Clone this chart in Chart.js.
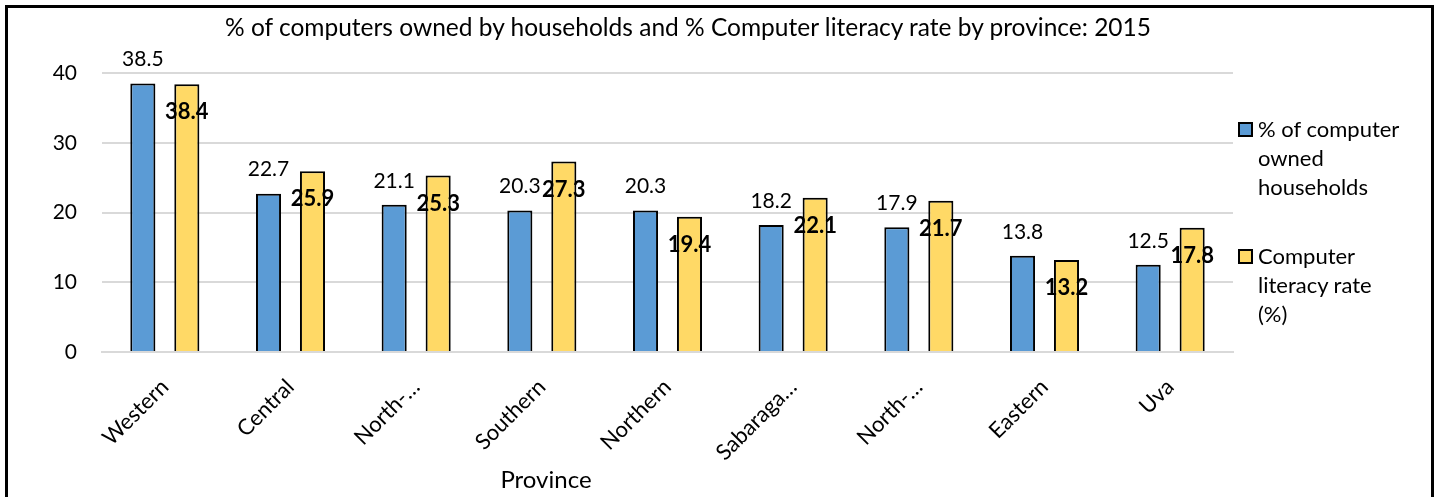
<!DOCTYPE html>
<html>
<head>
<meta charset="utf-8">
<script src="https://cdn.jsdelivr.net/npm/chart.js@4"></script>
<style>
  body { margin: 0; background: #fff; }
  #wrap { position: relative; width: 1439px; height: 497px; overflow: hidden; font-family: Lato, "Open Sans", sans-serif; color: #000; }
  #frame { position: absolute; left: 5px; top: 5px; width: 1423px; height: 520px; border: 3px solid #000; }
  #myChart { position: absolute; left: 0; top: 0; }
  #title { position: absolute; left: 0; width: 1376px; top: 12px; text-align: center; font-size: 24.5px; }
  #xTitle { position: absolute; left: 446px; width: 200px; top: 464px; text-align: center; font-size: 24px; }
  .leg { position: absolute; left: 1238px; font-size: 22px; line-height: 29px; }
  .leg span.box { position: absolute; left: 0; top: 8px; width: 11px; height: 11px; border: 2px solid #000; }
  .leg div.txt { margin-left: 20px; }
</style>
</head>
<body>
<div id="wrap">
  <div id="frame"></div>
  <canvas id="myChart" width="1439" height="497"></canvas>
  <div id="title">% of computers owned by households and % Computer literacy rate by province: 2015</div>
  <div id="xTitle">Province</div>
  <div class="leg" style="top:114px"><span class="box" style="background:#5B9BD5"></span><div class="txt">% of computer<br>owned<br>households</div></div>
  <div class="leg" style="top:241px"><span class="box" style="background:#FFD966"></span><div class="txt">Computer<br>literacy rate<br>(%)</div></div>
</div>
<script>
const provinces = ['Western', 'Central', 'North-\u2026', 'Southern', 'Northern', 'Sabaraga\u2026', 'North-\u2026', 'Eastern', 'Uva'];
const ownedHouseholds = [38.5, 22.7, 21.1, 20.3, 20.3, 18.2, 17.9, 13.8, 12.5];
const literacyRate = [38.4, 25.9, 25.3, 27.3, 19.4, 22.1, 21.7, 13.2, 17.8];
const yTicks = [0, 10, 20, 30, 40];

// value labels: blue above the bar, yellow bold inside near the top
const valueLabels = {
    id: 'valueLabels',
    afterDatasetsDraw(chart) {
        const ctx = chart.ctx;
        ctx.save();
        ctx.textAlign = 'center';
        ctx.textBaseline = 'middle';
        ctx.fillStyle = '#000';
        chart.data.datasets.forEach((ds, di) => {
            const meta = chart.getDatasetMeta(di);
            meta.data.forEach((bar, i) => {
                if (di === 0) {
                    ctx.font = '21px Lato';
                    ctx.fillText(ds.data[i].toFixed(1), bar.x, bar.y - 24);
                } else {
                    ctx.font = 'bold 22px Lato';
                    ctx.fillText(ds.data[i].toFixed(1), bar.x, bar.y + 28);
                }
            });
        });
        ctx.restore();
    }
};

const ctx = document.getElementById('myChart').getContext('2d');
const chart = new Chart(ctx, {
    type: 'bar',
    data: {
        labels: provinces,
        datasets: [
            {
                label: '% of computer owned households',
                data: ownedHouseholds,
                backgroundColor: '#5B9BD5',
                borderColor: '#000',
                borderWidth: 2,
                borderSkipped: 'bottom'
            },
            {
                label: 'Computer literacy rate (%)',
                data: literacyRate,
                backgroundColor: '#FFD966',
                borderColor: '#000',
                borderWidth: 2,
                borderSkipped: 'bottom'
            }
        ]
    },
    options: {
        responsive: false,
        animation: false,
        categoryPercentage: 0.7,
        barPercentage: 0.57,
        layout: { padding: { left: 0, right: 206, top: 73, bottom: 0 } },
        plugins: {
            legend: { display: false },
            title: { display: false },
            tooltip: { enabled: false }
        },
        scales: {
            x: {
                grid: { display: false },
                border: { color: '#d9d9d9', width: 2 },
                ticks: {
                    color: '#000',
                    font: { family: 'Lato', size: 22 },
                    minRotation: 45,
                    maxRotation: 45,
                    padding: 14
                },
                afterFit(scale) { scale.height = 145; }
            },
            y: {
                min: 0,
                max: 40,
                afterBuildTicks(scale) { scale.ticks = yTicks.map(v => ({ value: v })); },
                grid: { color: '#d9d9d9', lineWidth: 2, drawTicks: false },
                border: { display: false },
                ticks: {
                    color: '#000',
                    font: { family: 'Lato', size: 21 },
                    padding: 25
                },
                afterFit(scale) { scale.width = 102; }
            }
        }
    },
    plugins: [valueLabels]
});
</script>
</body>
</html>
